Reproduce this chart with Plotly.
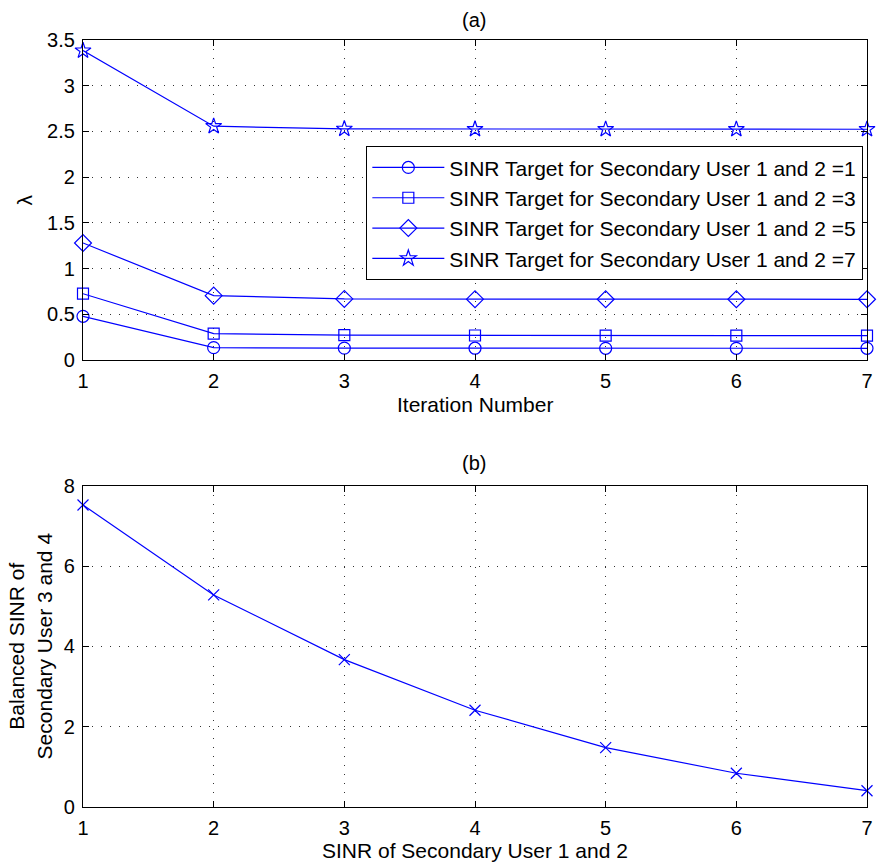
import plotly.graph_objects as go
from plotly.subplots import make_subplots

iterations = [1, 2, 3, 4, 5, 6, 7]
lam_t1 = [0.478, 0.135, 0.13, 0.129, 0.128, 0.128, 0.128]
lam_t3 = [0.725, 0.288, 0.272, 0.268, 0.266, 0.266, 0.266]
lam_t5 = [1.28, 0.704, 0.668, 0.665, 0.664, 0.664, 0.664]
lam_t7 = [3.384, 2.557, 2.528, 2.525, 2.524, 2.524, 2.524]
series_names = [
    "SINR Target for Secondary User 1 and 2 =1",
    "SINR Target for Secondary User 1 and 2 =3",
    "SINR Target for Secondary User 1 and 2 =5",
    "SINR Target for Secondary User 1 and 2 =7",
]
series_symbols = ["circle-open", "square-open", "diamond-open", "star-open"]
series_sizes = [12, 11, 13, 12]

sinr_su12 = [1, 2, 3, 4, 5, 6, 7]
balanced_sinr = [7.52, 5.28, 3.67, 2.41, 1.48, 0.84, 0.405]

BLUE = "#0000FF"
FONT = "Liberation Sans, Arial, Helvetica, sans-serif"

W, H = 879, 864
ML, MR, MT, MB = 83, 6, 40, 57
PH = H - MT - MB

def py(pix):
    return 1 - (pix - MT) / PH

def px(pix):
    return (pix - ML) / (W - ML - MR)

fig = make_subplots(rows=2, cols=1)
fig.update_layout(
    yaxis=dict(domain=[py(360), 1]),
    yaxis2=dict(domain=[0, py(485.7)]),
)

for ys, nm, sym, sz in zip([lam_t1, lam_t3, lam_t5, lam_t7], series_names, series_symbols, series_sizes):
    fig.add_trace(go.Scatter(
        x=iterations, y=ys, name=nm, mode="lines+markers",
        line=dict(color=BLUE, width=1.2),
        marker=dict(symbol=sym, size=sz, color=BLUE, line=dict(color=BLUE, width=1.2)),
        cliponaxis=False,
    ), row=1, col=1)

fig.add_trace(go.Scatter(
    x=sinr_su12, y=balanced_sinr, mode="lines+markers", showlegend=False,
    line=dict(color=BLUE, width=1.2),
    marker=dict(symbol="x-thin-open", size=11, color=BLUE, line=dict(color=BLUE, width=1.2)),
    cliponaxis=False,
), row=2, col=1)

axis_common = dict(
    showline=True, linecolor="black", linewidth=1.3, mirror="ticks",
    ticks="inside", ticklen=6, tickcolor="black", tickwidth=1,
    showgrid=True, gridcolor="#333333", griddash="1px,8px", gridwidth=1,
    zeroline=False, tickfont=dict(family=FONT, size=20, color="black"),
)

fig.update_xaxes(**axis_common, range=[1, 7], tickvals=[1, 2, 3, 4, 5, 6, 7], ticklabelstandoff=3)
fig.update_yaxes(**axis_common, ticklabelstandoff=3)
fig.update_yaxes(range=[0, 3.5], dtick=0.5, tick0=0, row=1, col=1)
fig.update_yaxes(range=[0, 8], dtick=2, tick0=0, row=2, col=1)

annotations = [
    dict(text="(a)", x=px(477), y=py(20), font=dict(size=20)),
    dict(text="(b)", x=px(477), y=py(463), font=dict(size=20)),
    dict(text="Iteration Number", x=px(478), y=py(405), font=dict(size=21)),
    dict(text="SINR of Secondary User 1 and 2", x=px(478), y=py(850), font=dict(size=21)),
    dict(text="λ", x=px(24), y=py(200), font=dict(size=21), textangle=-90),
    dict(text="Balanced SINR of<br>Secondary User 3 and 4", x=px(30), y=py(646),
         font=dict(size=21), textangle=-90),
]
for a in annotations:
    a.update(xref="paper", yref="paper", showarrow=False, xanchor="center", yanchor="middle")
    a["font"].update(family=FONT, color="black")

fig.update_layout(
    width=W, height=H,
    margin=dict(l=ML, r=MR, t=MT, b=MB),
    paper_bgcolor="white", plot_bgcolor="white",
    annotations=annotations,
    showlegend=True,
    legend=dict(
        x=px(869), y=py(146), xanchor="right", yanchor="top",
        bgcolor="white", bordercolor="black", borderwidth=1.3,
        font=dict(family=FONT, size=21, color="black"),
        tracegroupgap=0, itemsizing="trace", itemwidth=72,
    ),
    font=dict(family=FONT, color="black"),
)

fig.write_html("out.html")
